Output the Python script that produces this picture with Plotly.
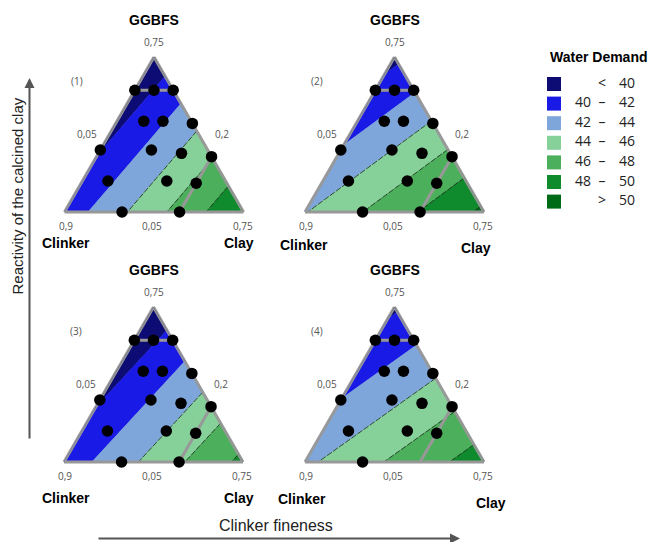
import math
import plotly.graph_objects as go

# ---------------------------------------------------------------------------
# Mixture space: lower bounds of each binder component (mass fractions)
# ---------------------------------------------------------------------------
GGBFS_MIN = 0.05
CLINKER_MIN = 0.20
CLAY_MIN = 0.05
GGBFS_UPPER = 0.60   # upper GGBFS limit of the tested region
CLAY_UPPER = 0.50    # upper clay limit of the tested region

# Design points of the experimental plan
pt_ggbfs = [0.60, 0.60, 0.60, 0.46, 0.46, 0.45, 0.33, 0.33, 0.315, 0.30,
            0.19, 0.19, 0.18, 0.05, 0.05, 0.05]
pt_clinker = [0.35, 0.275, 0.20, 0.385, 0.31, 0.20, 0.62, 0.42, 0.31, 0.20,
              0.66, 0.43, 0.32, 0.90, 0.675, 0.45]
pt_clay = [0.05, 0.125, 0.20, 0.155, 0.23, 0.35, 0.05, 0.25, 0.375, 0.50,
           0.15, 0.38, 0.50, 0.05, 0.275, 0.50]
# points tested in each of the four series
panel_tested = [
    list(range(16)),
    list(range(16)),
    list(range(16)),
    list(range(15)),
]
panel_names = ["(1)", "(2)", "(3)", "(4)"]

# Water demand of the fitted linear mixture model at the three vertices
wd_at_ggbfs_vertex = [38.6, 39.5, 38.5, 39.7]
wd_at_clinker_vertex = [40.8, 43.9, 40.8, 43.6]
wd_at_clay_vertex = [49.9, 50.4, 48.5, 49.05]

levels = [40, 42, 44, 46, 48, 50]
band_colors = ["#0c0c74", "#1a1ae6", "#7ea6da", "#86d09a",
               "#4caf5c", "#0f8a2c", "#006b16"]
line_levels_from = 44   # iso-lines are drawn from this level upwards

# vertex labels
top_labels = ["0,75"] * 4
left_side_labels = ["0,05"] * 4
right_side_labels = ["0,2"] * 4
bottom_labels = [("0,9", "0,05", "0,75")] * 4

# ---------------------------------------------------------------------------
SPAN = 1.0 - (GGBFS_MIN + CLINKER_MIN + CLAY_MIN)
V_CLINKER = (GGBFS_MIN, CLINKER_MIN + SPAN, CLAY_MIN)   # (ggbfs, clinker, clay)
V_GGBFS = (GGBFS_MIN + SPAN, CLINKER_MIN, CLAY_MIN)
V_CLAY = (GGBFS_MIN, CLINKER_MIN, CLAY_MIN + SPAN)
TRIANGLE = [V_CLINKER, V_GGBFS, V_CLAY]


def water_demand(p, i):
    g, k, c = p
    return (wd_at_ggbfs_vertex[i] * (g - GGBFS_MIN)
            + wd_at_clinker_vertex[i] * (k - CLINKER_MIN)
            + wd_at_clay_vertex[i] * (c - CLAY_MIN)) / SPAN


def clip(poly, fn, level, keep_above):
    out = []
    n = len(poly)
    for j in range(n):
        p, q = poly[j], poly[(j + 1) % n]
        dp, dq = fn(p) - level, fn(q) - level
        if not keep_above:
            dp, dq = -dp, -dq
        if dp >= 0:
            out.append(p)
        if (dp >= 0) != (dq >= 0):
            t = dp / (dp - dq)
            out.append(tuple(p[m] + t * (q[m] - p[m]) for m in range(3)))
    return out


def iso_segment(fn, level):
    pts = []
    for j in range(3):
        p, q = TRIANGLE[j], TRIANGLE[(j + 1) % 3]
        dp, dq = fn(p) - level, fn(q) - level
        if dp * dq < 0:
            t = dp / (dp - dq)
            pts.append(tuple(p[m] + t * (q[m] - p[m]) for m in range(3)))
    return pts


def closed(poly):
    return poly + [poly[0]]


fig = go.Figure()
GRAY = "rgb(152,152,152)"

for i in range(4):
    sub = "ternary" if i == 0 else f"ternary{i + 1}"
    fn = (lambda p, i=i: water_demand(p, i))

    # filled bands
    for j, col in enumerate(band_colors):
        poly = list(TRIANGLE)
        if j > 0:
            poly = clip(poly, fn, levels[j - 1], True)
        if j < len(levels) and poly:
            poly = clip(poly, fn, levels[j], False)
        if len(poly) < 3:
            continue
        poly = closed(poly)
        fig.add_trace(go.Scatterternary(
            subplot=sub, mode="lines", fill="toself", fillcolor=col,
            a=[p[0] for p in poly], b=[p[1] for p in poly], c=[p[2] for p in poly],
            line=dict(color=col, width=0.6), hoverinfo="skip", showlegend=False))

    # iso-lines
    for lev in levels:
        if lev < line_levels_from:
            continue
        seg = iso_segment(fn, lev)
        if len(seg) == 2:
            fig.add_trace(go.Scatterternary(
                subplot=sub, mode="lines",
                a=[p[0] for p in seg], b=[p[1] for p in seg], c=[p[2] for p in seg],
                line=dict(color="#1b2a1b", width=0.8, dash="6px,1.5px"),
                hoverinfo="skip", showlegend=False))

    # triangle outline and limits of the tested region
    outline = closed(TRIANGLE)
    fig.add_trace(go.Scatterternary(
        subplot=sub, mode="lines",
        a=[p[0] for p in outline], b=[p[1] for p in outline], c=[p[2] for p in outline],
        line=dict(color=GRAY, width=3), hoverinfo="skip", showlegend=False))
    limits = [
        [(GGBFS_UPPER, 1 - GGBFS_UPPER - CLAY_MIN, CLAY_MIN),
         (GGBFS_UPPER, CLINKER_MIN, 1 - GGBFS_UPPER - CLINKER_MIN)],
        [(GGBFS_MIN, 1 - CLAY_UPPER - GGBFS_MIN, CLAY_UPPER),
         (1 - CLAY_UPPER - CLINKER_MIN, CLINKER_MIN, CLAY_UPPER)],
    ]
    for seg in limits:
        fig.add_trace(go.Scatterternary(
            subplot=sub, mode="lines",
            a=[p[0] for p in seg], b=[p[1] for p in seg], c=[p[2] for p in seg],
            line=dict(color=GRAY, width=3), hoverinfo="skip", showlegend=False))

    # design points
    idx = panel_tested[i]
    fig.add_trace(go.Scatterternary(
        subplot=sub, mode="markers", cliponaxis=False,
        a=[pt_ggbfs[k] for k in idx], b=[pt_clinker[k] for k in idx],
        c=[pt_clay[k] for k in idx],
        marker=dict(color="black", size=11.5, line=dict(width=0)),
        hoverinfo="skip", showlegend=False))

# ---------------------------------------------------------------------------
# Legend drawn on an invisible pixel-scaled cartesian overlay
# ---------------------------------------------------------------------------
W, H = 652, 542
n_bands = len(band_colors)
lo_txt = [""] + [str(v) for v in levels]
mid_txt = ["<"] + ["\u2013"] * (len(levels) - 1) + [">"]
hi_txt = [str(levels[0])] + [str(v) for v in levels[1:]] + [str(levels[-1])]
lo_txt = lo_txt[:n_bands - 1] + [""]
row_y = [84 + 19.6 * r for r in range(n_bands)]

fig.add_trace(go.Scatter(
    x=[554] * n_bands, y=row_y, mode="markers",
    marker=dict(symbol="square", size=14, color=band_colors, line=dict(width=0)),
    hoverinfo="skip", showlegend=False, xaxis="x", yaxis="y"))
leg_font = dict(family="Open Sans, sans-serif", size=14, color="#222")
fig.add_trace(go.Scatter(
    x=[591] * n_bands, y=row_y, mode="text", text=lo_txt, textposition="middle left",
    textfont=leg_font, hoverinfo="skip", showlegend=False))
fig.add_trace(go.Scatter(
    x=[602] * n_bands, y=row_y, mode="text", text=mid_txt, textposition="middle center",
    textfont=leg_font, hoverinfo="skip", showlegend=False))
fig.add_trace(go.Scatter(
    x=[619] * n_bands, y=row_y, mode="text", text=hi_txt, textposition="middle right",
    textfont=leg_font, hoverinfo="skip", showlegend=False))

# ---------------------------------------------------------------------------
# Layout: four ternary subplots placed by pixel geometry
# ---------------------------------------------------------------------------
TRI_W = 179.0
TRI_H = TRI_W * math.sqrt(3) / 2
bl_x = [64.5, 305.0, 64.0, 305.0]
bl_y = [212.0, 212.0, 462.0, 462.0]
clinker_off = [(1, 31), (-1, 33), (2, 36), (-3, 37)]
clay_off = [(-5, 31), (-8, 36), (-4, 36), (7, 41)]

axis_common = dict(showgrid=False, showticklabels=False, ticks="", showline=True,
                   linecolor=GRAY, linewidth=3, layer="below traces",
                   title=dict(text=""))

layout = dict(
    width=W, height=H, margin=dict(l=0, r=0, t=0, b=0),
    paper_bgcolor="white", plot_bgcolor="rgba(0,0,0,0)",
    xaxis=dict(domain=[0, 1], range=[0, W], visible=False, fixedrange=True),
    yaxis=dict(domain=[0, 1], range=[H, 0], visible=False, fixedrange=True),
    showlegend=False,
)


def px(x):
    return x / W


def py(y):
    return 1 - y / H


annotations = []


def label(x, y, text, size=10, color="#555", bold=False, family="Open Sans, sans-serif",
          xanchor="center", angle=0):
    annotations.append(dict(
        x=px(x), y=py(y), xref="paper", yref="paper", showarrow=False,
        text=f"<b>{text}</b>" if bold else text, xanchor=xanchor, yanchor="middle",
        textangle=angle, font=dict(size=size, color=color, family=family)))


for i in range(4):
    key = "ternary" if i == 0 else f"ternary{i + 1}"
    x0, yb = bl_x[i], bl_y[i]
    layout[key] = dict(
        domain=dict(x=[px(x0), px(x0 + TRI_W)], y=[py(yb), py(yb - TRI_H)]),
        sum=1, bgcolor="rgba(0,0,0,0)",
        aaxis=dict(min=GGBFS_MIN, **axis_common),
        baxis=dict(min=CLINKER_MIN, **axis_common),
        caxis=dict(min=CLAY_MIN, **axis_common),
    )
    ax_, ay_ = x0 + TRI_W / 2, yb - TRI_H
    label(ax_, ay_ - 37, "GGBFS", size=14, color="black", bold=True,
          family="Liberation Sans, Arial, sans-serif")
    label(ax_, ay_ - 15, top_labels[i])
    label(x0 + 12, yb - 131, panel_names[i], size=10)
    label(x0 + 22, yb - 78, left_side_labels[i])
    label(x0 + TRI_W - 22, yb - 78, right_side_labels[i])
    b0, b1, b2 = bottom_labels[i]
    label(x0 + 1, yb + 14, b0)
    label(x0 + TRI_W / 2 - 2, yb + 14, b1)
    label(x0 + TRI_W - 1, yb + 14, b2)
    label(x0 + clinker_off[i][0], yb + clinker_off[i][1], "Clinker", size=14,
          color="black", bold=True, family="Liberation Sans, Arial, sans-serif")
    label(x0 + TRI_W + clay_off[i][0], yb + clay_off[i][1], "Clay", size=14,
          color="black", bold=True, family="Liberation Sans, Arial, sans-serif")

# legend title
label(599, 57, "Water Demand", size=14, color="black", bold=True,
      family="Liberation Sans, Arial, sans-serif")

# axis captions with arrows
label(16.5, 196, "Reactivity of the calcined clay", size=15, color="#222",
      family="Liberation Sans, Arial, sans-serif", angle=-90)
label(276, 525, "Clinker fineness", size=16, color="#222",
      family="Liberation Sans, Arial, sans-serif")
ARROW = "rgb(85,85,85)"
annotations.append(dict(x=px(29.5), y=py(78), xref="paper", yref="paper", text="",
                        showarrow=True, ax=0, ay=362, axref="pixel", ayref="pixel",
                        arrowhead=2, arrowsize=1, arrowwidth=2, arrowcolor=ARROW))
annotations.append(dict(x=px(460), y=py(538.5), xref="paper", yref="paper", text="",
                        showarrow=True, ax=-363, ay=0, axref="pixel", ayref="pixel",
                        arrowhead=2, arrowsize=1, arrowwidth=2, arrowcolor=ARROW))

layout["annotations"] = annotations
fig.update_layout(**layout)
fig.write_html("out.html")
